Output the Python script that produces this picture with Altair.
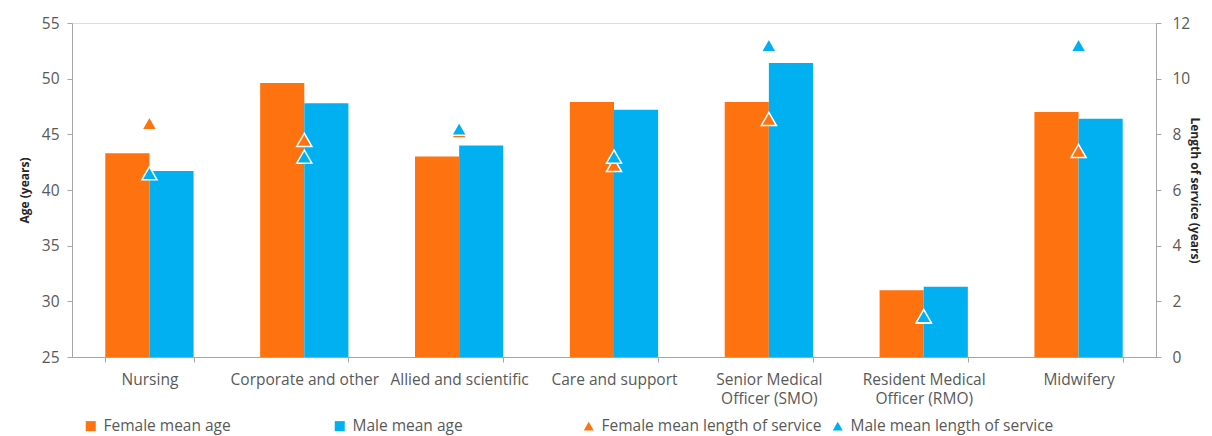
import altair as alt
import pandas as pd

categories = [
    "Nursing",
    "Corporate and other",
    "Allied and scientific",
    "Care and support",
    "Senior Medical Officer (SMO)",
    "Resident Medical Officer (RMO)",
    "Midwifery",
]
female_age = [43.3, 49.6, 43.0, 47.9, 47.9, 31.0, 47.0]
male_age = [41.7, 47.8, 44.0, 47.2, 51.4, 31.3, 46.4]
female_los = [8.4, 7.8, 8.1, 6.9, 8.55, 1.45, 7.4]
male_los = [6.6, 7.2, 8.2, 7.2, 11.2, 1.47, 11.2]

age_series = ["Female mean age", "Male mean age"]
los_series = ["Female mean length of service", "Male mean length of service"]
legend_series = age_series + los_series
series_colors = ["#FF7210", "#00B0F0", "#FF7210", "#00B0F0"]
series_shapes = ["square", "square", "triangle-up", "triangle-up"]
age_ticks = [25, 30, 35, 40, 45, 50, 55]
los_ticks = [0, 2, 4, 6, 8, 10, 12]
wrapped_labels = {
    "Senior Medical Officer (SMO)": ["Senior Medical", "Officer (SMO)"],
    "Resident Medical Officer (RMO)": ["Resident Medical", "Officer (RMO)"],
}

age_rows = []
los_rows = []
for i, c in enumerate(categories):
    age_rows.append({"category": c, "series": age_series[0], "age": female_age[i]})
    age_rows.append({"category": c, "series": age_series[1], "age": male_age[i]})
    los_rows.append({"category": c, "series": los_series[0], "los": female_los[i]})
    los_rows.append({"category": c, "series": los_series[1], "los": male_los[i]})
age_df = pd.DataFrame(age_rows)
los_df = pd.DataFrame(los_rows)

label_expr = "datum.label"
for full, parts in wrapped_labels.items():
    arr = "[" + ",".join("'" + p + "'" for p in parts) + "]"
    label_expr = f"datum.label == '{full}' ? {arr} : ({label_expr})"

FONT = "Open Sans"
GRAY = "#A6A6A6"
TXT = "#595959"

x_enc = alt.X(
    "category:N",
    sort=categories,
    scale=alt.Scale(domain=categories, paddingInner=0.43, paddingOuter=0.215),
    axis=alt.Axis(
        title=None,
        labelAngle=0,
        labelExpr=label_expr,
        tickBand="extent",
        tickSize=5,
        tickColor=GRAY,
        domainColor=GRAY,
        labelFont=FONT,
        labelFontSize=15.5,
        labelColor=TXT,
        labelPadding=10,
        labelLineHeight=19,
        labelLimit=0,
        grid=False,
    ),
)

bars = alt.Chart(age_df).mark_bar(clip=True).encode(
    x=x_enc,
    xOffset=alt.XOffset(
        "series:N",
        sort=age_series,
        scale=alt.Scale(domain=age_series, paddingInner=0, paddingOuter=0),
    ),
    y=alt.Y(
        "age:Q",
        scale=alt.Scale(domain=[25, 55], zero=False, nice=False),
        axis=alt.Axis(
            orient="left",
            values=age_ticks,
            title="Age (years)",
            titleFont=FONT,
            titleFontSize=12,
            titleFontWeight="bold",
            titleColor="#262626",
            titlePadding=10,
            tickSize=5,
            tickColor=GRAY,
            domainColor=GRAY,
            labelFont=FONT,
            labelFontSize=15.5,
            labelColor=TXT,
            labelPadding=8,
            grid=False,
        ),
    ),
    color=alt.Color(
        "series:N",
        scale=alt.Scale(domain=age_series, range=series_colors[:2]),
        legend=None,
    ),
)

legend = alt.Legend(
    title=None,
    orient="none",
    legendX=11,
    legendY=395,
    direction="horizontal",
    columns=4,
    gridAlign="all",
    columnPadding=8,
    symbolSize=100,
    symbolStrokeWidth=0,
    labelFont=FONT,
    labelFontSize=15.5,
    labelColor=TXT,
    labelOffset=5,
    labelLimit=0,
    padding=0,
)

points = alt.Chart(los_df).mark_point(
    filled=True, opacity=1, size=230, stroke="white", strokeWidth=1.5
).encode(
    x=x_enc,
    y=alt.Y(
        "los:Q",
        scale=alt.Scale(domain=[0, 12], nice=False),
        axis=alt.Axis(
            orient="right",
            values=los_ticks,
            title="Length of service (years)",
            titleFont=FONT,
            titleFontSize=12,
            titleFontWeight="bold",
            titleColor="#262626",
            titlePadding=-2,
            tickSize=5,
            tickColor=GRAY,
            domainColor=GRAY,
            labelFont=FONT,
            labelFontSize=15.5,
            labelColor=TXT,
            labelPadding=11,
            grid=False,
        ),
    ),
    color=alt.Color(
        "series:N",
        scale=alt.Scale(domain=legend_series, range=series_colors),
        legend=legend,
    ),
    shape=alt.Shape(
        "series:N",
        scale=alt.Scale(domain=legend_series, range=series_shapes),
        legend=legend,
    ),
)

chart = (
    alt.layer(bars, points)
    .resolve_scale(y="independent", color="independent", shape="independent")
    .properties(
        width=1084,
        height=334,
        autosize=alt.AutoSizeParams(type="none"),
        padding={"left": 64, "top": 15, "right": 48, "bottom": 79},
    )
    .configure_view(stroke=None)
    .configure(font=FONT, background="white")
)

chart.save("out.html", embed_options={"renderer": "svg", "actions": False})
